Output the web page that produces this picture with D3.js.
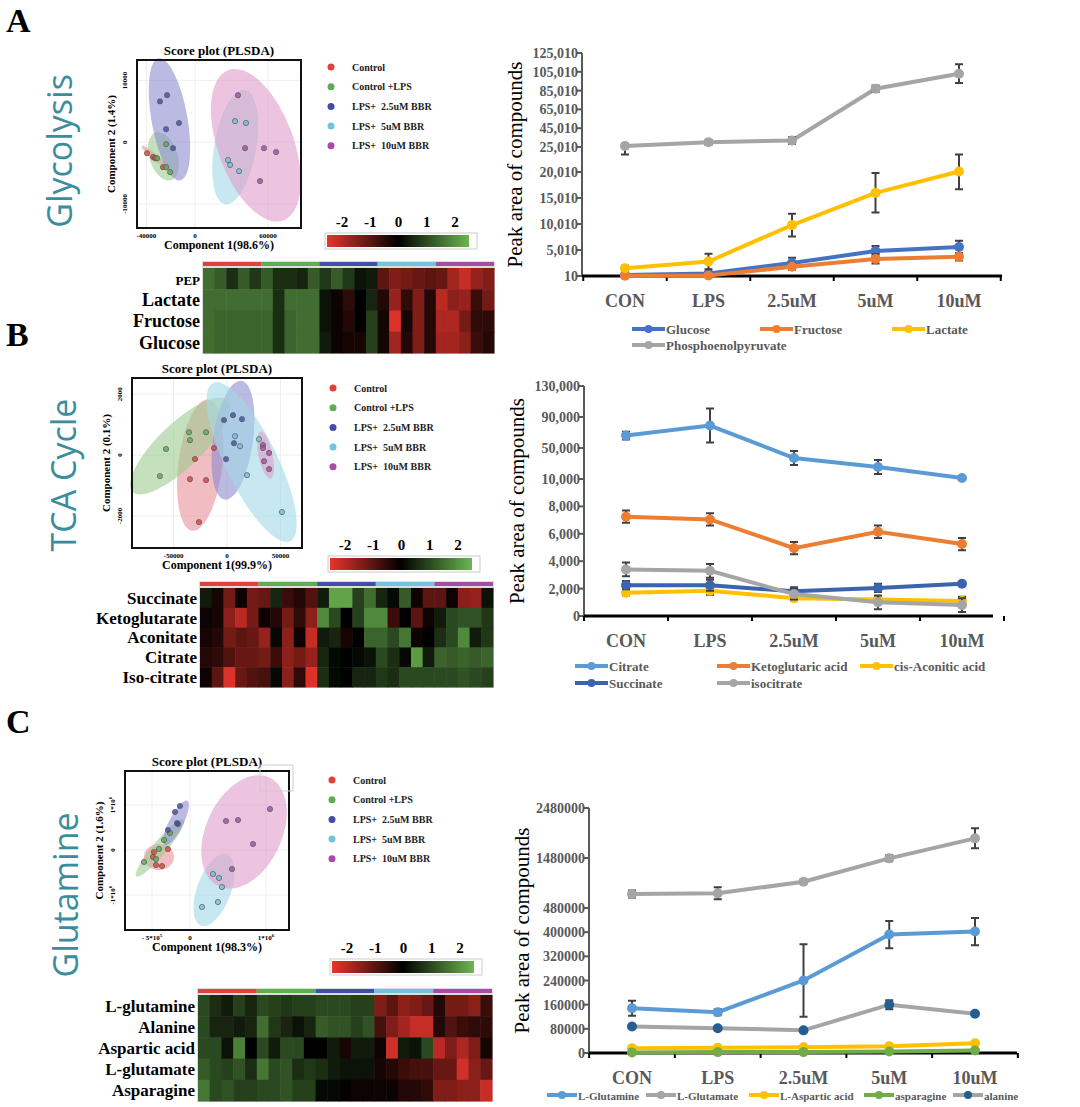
<!DOCTYPE html>
<html><head><meta charset="utf-8">
<script src="https://cdn.jsdelivr.net/npm/d3@7"></script>
<style>body{margin:0;background:#fff}svg{display:block}</style>
</head><body>
<svg id="fig" width="1080" height="1107"></svg>
<script>
// ---------- data ----------
const groups = ["Control", "Control +LPS", "LPS+  2.5uM BBR", "LPS+  5uM BBR", "LPS+  10uM BBR"];
const groupColors = ["#e0413a", "#5cae51", "#3f4fa8", "#72c3dd", "#a64ca6"];
const ellipseColors = ["#e8909a", "#9fcc8f", "#8c8cd0", "#a3d8e8", "#e09cc9"];
const doses = ["CON", "LPS", "2.5uM", "5uM", "10uM"];

// score plots: [x, y] per group
const scoreA = [
  [[-39500,-1800],[-34500,-2400],[-26300,-4050],[-32900,-2600]],
  [[-23800,-320],[-31200,-2600],[-23800,-4050],[-20500,-4860]],
  [[-28800,6600],[-23000,7600],[-13200,3100],[-23800,2100],[-18100,-970]],
  [[32900,3400],[41900,3100],[27100,-2900],[28800,-3700],[36200,-4700]],
  [[35300,7600],[41100,-970],[56700,-970],[66600,-1600],[53400,-6300]]
];
const scoreB = [
  [[-12200,230],[-29900,-130],[-19600,-820],[-34600,-790],[-26200,-2200]],
  [[-57000,200],[-62700,-690],[-35500,750],[-34600,490],[-19600,750]],
  [[-2800,1150],[5600,1310],[14000,1180],[6500,390],[-900,-130]],
  [[7500,620],[12200,290],[29900,520],[18700,-660],[51400,-1870]],
  [[33600,330],[33600,230],[39300,70],[34600,-200],[39300,-460]]
];
const scoreC = [
  [[-290000,22000],[-474000,-44000],[-487000,-155000],[-447000,-333000],[-368000,-355000]],
  [[-263000,377000],[-342000,222000],[-408000,22000],[-447000,-200000],[-605000,-266000]],
  [[-132000,977000],[-197000,844000],[-158000,577000],[-290000,444000],[-171000,600000]],
  [[303000,-533000],[382000,-622000],[421000,-822000],[368000,-1155000],[158000,-1265000]],
  [[474000,644000],[632000,666000],[1053000,910000],[829000,133000],[553000,-422000]]
];
// ellipses per group: [cx, cy, rxPx, ryPx, rotateDeg]
const ellA = [[-33000,-2400,3,17,-50],[-26000,-2300,14,25,-18],[-21000,3700,18,62,-10],[33000,-800,21,58,10],[50000,-500,38,80,-20]];
const ellB = [[-25000,-330,22,66,7],[-44000,300,22,66,46],[5600,490,20,60,8],[23000,-230,26,88,-26],[36000,0,7,24,-12]];
const ellC = [[-408000,-155000,15,13,0],[-395000,44000,7,37,40],[-184000,600000,7,25,27],[316000,-888000,17,38,20],[711000,400000,38,60,25]];

// heatmaps (z-scores, 25 samples)
const heatA = {
  rows: ["PEP", "Lactate", "Fructose", "Glucose"],
  values: [
    [1.2,1.0,0.5,1.0,0.6,1.0,0.5,0.5,0.4,1.0,0.6,1.0,0.6,0.2,0.3,-0.8,-1.1,-1.0,-0.9,-0.8,-0.9,-1.4,-1.7,-1.3,-1.1],
    [1.2,1.2,1.2,1.2,1.2,1.2,0.5,1.2,1.2,1.2,0.2,-0.1,-0.4,0,0.4,-0.3,-1.3,-0.4,-1.1,-0.3,-1.6,-1.2,-1.3,-0.5,-1.0],
    [1.2,1.1,1.1,1.1,1.1,1.1,0.5,1.1,1.2,1.2,0.2,-0.1,-0.3,0,0.7,-0.2,-1.9,-0.2,-1.1,-0.3,-1.5,-1.5,-1.0,-0.4,-0.4],
    [1.2,1.1,1.1,1.1,1.1,1.1,0.5,1.1,1.2,1.2,0.3,-0.1,-0.2,-0.2,0.7,-0.2,-1.4,-0.3,-1.1,-0.3,-1.4,-1.4,-1.2,-0.5,-0.3]
  ]
};
const heatB = {
  rows: ["Succinate", "Ketoglutarate", "Aconitate", "Citrate", "Iso-citrate"],
  values: [
    [0.3,-0.2,-1.0,-0.1,-1.0,-0.9,0.4,-0.5,-0.3,-0.7,0.3,1.8,1.8,0.7,1.2,0.4,0.1,1.0,-0.1,-0.8,-0.8,-0.1,-1.2,-1.3,0.2],
    [-0.1,-0.2,-1.2,-1.6,-1.0,-0.1,-0.3,-1.0,-0.4,-1.2,1.5,0.8,0,0.7,1.5,1.5,-0.5,0,-0.8,-0.1,0.3,0.8,0.9,0.9,0.6],
    [-0.2,-0.3,-1.0,-0.8,-0.9,-1.3,0.1,-1.2,-0.1,-1.7,0.3,0.4,-0.2,0,1.1,1.1,0.8,1.3,-0.1,0,0.5,0.8,1.5,0.3,0.6],
    [-0.3,-0.4,-0.7,-0.9,-0.9,-1.0,-0.5,-1.2,-1.0,-1.3,0.4,0.1,0,0.1,0.2,0.8,0.5,0.1,1.7,0.3,1.1,1.0,1.1,1.0,1.1],
    [-0.1,-0.8,-1.9,-0.9,-0.7,-0.6,0.1,-1.2,-0.4,-1.9,0.5,0.1,0,0.4,0.4,0.6,0.5,0.8,0.8,0.8,0.8,0.8,0.9,0.8,0.7]
  ]
};
const heatC = {
  rows: ["L-glutamine", "Alanine", "Aspartic acid", "L-glutamate", "Asparagine"],
  values: [
    [0.8,0.5,0.3,0.7,0.4,0.8,0.7,0.6,0.7,0.7,0.8,0.8,0.8,0.7,0.7,-1.1,-0.8,-1.2,-1.1,-0.9,-0.3,-1.0,-1.0,-1.2,-0.5],
    [0.8,0.4,0.4,0.3,0.4,1.2,0.6,0.4,0.2,0.4,1.0,0.9,0.9,0.7,0.9,-0.6,-1.1,-1.4,-1.7,-1.7,-0.3,-0.7,-0.5,-0.4,-0.4],
    [0.8,0.8,0.2,1.4,0.0,0.8,0.3,0.8,0.8,0.0,0.0,0.3,-0.2,0.3,0.3,-0.1,-1.8,0.3,0.2,0.8,-1.6,-1.1,-1.5,-1.1,-0.2],
    [1.0,0.8,0.7,0.9,0.5,1.3,0.8,0.9,0.5,0.6,0.5,0.3,0.2,0.2,0.2,-0.2,-0.3,-0.5,-0.6,-0.6,-0.9,-0.9,-1.8,-1.2,-0.9],
    [1.3,0.8,0.9,0.7,0.7,0.8,0.8,0.9,0.7,0.7,0.1,0.1,-0.05,-0.1,-0.1,-0.1,-0.1,-0.3,-0.3,-0.4,-1.1,-1.1,-1.2,-1.2,-1.7]
  ]
};

// line charts
const glycoSeries = [
  {name:"Glucose", color:"#4472c4", v:[200,500,2500,4800,5600], e:[300,300,1000,1000,1200]},
  {name:"Fructose", color:"#ed7d31", v:[50,100,1800,3300,3700], e:[200,200,600,900,700]},
  {name:"Lactate", color:"#ffc000", v:[1500,2800,9800,16000,20100], e:[500,1500,2200,3800,3400]},
  {name:"Phosphoenolpyruvate", color:"#a5a5a5", v:[26000,30000,32000,87000,103000], e:[2500,2500,3500,3500,10000]}
];
const glycoTicks = [10,5010,10010,15010,20010,25010,45010,65010,85010,105010,125010];
const tcaSeries = [
  {name:"Citrate", color:"#5b9bd5", v:[66000,79000,37000,25500,11300], e:[5000,22000,9000,9000,0]},
  {name:"Ketoglutaric acid", color:"#ed7d31", v:[7250,7050,4950,6150,5250], e:[450,450,450,450,450]},
  {name:"cis-Aconitic acid", color:"#ffc000", v:[1700,1850,1300,1200,1100], e:[200,300,150,200,300]},
  {name:"Succinate", color:"#3c63ad", v:[2250,2250,1800,2050,2350], e:[300,400,300,300,100]},
  {name:"isocitrate", color:"#a5a5a5", v:[3400,3300,1600,1000,800], e:[500,500,400,500,500]}
];
const tcaTicks = [0,2000,4000,6000,8000,10000,50000,90000,130000];
const glnSeries = [
  {name:"L-Glutamine", color:"#5b9bd5", v:[148000,135000,240000,392000,402000], e:[25000,10000,120000,45000,45000]},
  {name:"L-Glutamate", color:"#a5a5a5", v:[760000,773000,1005000,1473000,1873000], e:[70000,120000,40000,60000,200000]},
  {name:"L-Aspartic acid", color:"#ffc000", v:[16000,17000,19000,22000,32000], e:[0,0,0,0,0]},
  {name:"asparagine", color:"#70ad47", v:[2000,3000,3000,5000,8000], e:[0,0,0,0,0]},
  {name:"alanine", color:"#a5a5a5", marker:"#255e91", v:[88000,82000,75000,160000,130000], e:[0,0,0,15000,0]}
];
const glnTicks = [0,80000,160000,240000,320000,400000,480000,1480000,2480000];

// ---------- drawing ----------
const svg = d3.select("#fig");
const serif = "'Liberation Serif','DejaVu Serif',serif";
const heatColor = d3.scaleLinear().domain([-2, 0, 2]).range(["#e8352c", "#000000", "#6cb650"]).clamp(true);

function panelLetter(t, x, y) {
  svg.append("text").attr("x", x).attr("y", y).text(t)
    .attr("font-family", serif).attr("font-weight", "bold").attr("font-size", 34);
}
function sideTitle(t, x, y) {
  svg.append("text").attr("transform", `translate(${x},${y}) rotate(-90)`).attr("text-anchor", "middle")
    .attr("font-family", "'Open Sans',sans-serif").attr("font-size", 34).attr("fill", "#3b8d9d").text(t);
}

function scorePlot(cfg) {
  const g = svg.append("g");
  const x = d3.scaleLinear().domain(cfg.xd).range([cfg.x0, cfg.x1]);
  const y = d3.scaleLinear().domain(cfg.yd).range([cfg.y1, cfg.y0]);
  g.selectAll(".gx").data(cfg.xt).join("line").attr("x1", d => x(d)).attr("x2", d => x(d))
    .attr("y1", cfg.y0).attr("y2", cfg.y1).attr("stroke", "#eee");
  g.selectAll(".gy").data(cfg.yt).join("line").attr("y1", d => y(d)).attr("y2", d => y(d))
    .attr("x1", cfg.x0).attr("x2", cfg.x1).attr("stroke", "#eee");
  cfg.ell.forEach((e, i) => {
    g.append("ellipse").attr("cx", 0).attr("cy", 0).attr("rx", e[2]).attr("ry", e[3])
      .attr("transform", `translate(${x(e[0])},${y(e[1])}) rotate(${e[4]})`)
      .attr("fill", ellipseColors[i]).attr("opacity", 0.6);
  });
  cfg.pts.forEach((ps, i) => {
    g.selectAll(null).data(ps).join("circle").attr("cx", d => x(d[0])).attr("cy", d => y(d[1])).attr("r", 2.6)
      .attr("fill", groupColors[i]).attr("fill-opacity", 0.8).attr("stroke", "#555").attr("stroke-width", 0.7);
  });
  g.append("rect").attr("x", cfg.x0).attr("y", cfg.y0).attr("width", cfg.x1 - cfg.x0).attr("height", cfg.y1 - cfg.y0)
    .attr("fill", "none").attr("stroke", "#111").attr("stroke-width", 2);
  g.append("text").attr("x", (cfg.x0 + cfg.x1) / 2).attr("y", cfg.y0 - 5).attr("text-anchor", "middle")
    .attr("font-family", serif).attr("font-weight", "bold").attr("font-size", 13).text("Score plot (PLSDA)");
  cfg.xt.forEach((t, i) => {
    const tx = g.append("text").attr("x", x(t)).attr("y", cfg.y1 + 10).attr("text-anchor", "middle")
      .attr("font-family", serif).attr("font-weight", "bold").attr("font-size", 7);
    label(tx, cfg.xl[i]);
  });
  cfg.yt.forEach((t, i) => {
    const tx = g.append("text").attr("transform", `translate(${cfg.x0 - 10},${y(t)}) rotate(-90)`).attr("text-anchor", "middle")
      .attr("font-family", serif).attr("font-weight", "bold").attr("font-size", 7);
    label(tx, cfg.yl[i]);
  });
  g.append("text").attr("x", (cfg.x0 + cfg.x1) / 2).attr("y", cfg.y1 + 21).attr("text-anchor", "middle")
    .attr("font-family", serif).attr("font-weight", "bold").attr("font-size", 12).text(cfg.xlab);
  g.append("text").attr("transform", `translate(${cfg.x0 - 22},${(cfg.y0 + cfg.y1) / 2}) rotate(-90)`).attr("text-anchor", "middle")
    .attr("font-family", serif).attr("font-weight", "bold").attr("font-size", 11).text(cfg.ylab);
  // legend
  groups.forEach((n, i) => {
    const ly = cfg.ly + i * 19.7;
    g.append("circle").attr("cx", cfg.lx).attr("cy", ly).attr("r", 3.5).attr("fill", groupColors[i]);
    g.append("text").attr("x", cfg.lx + 21).attr("y", ly + 3.5).attr("font-family", serif).attr("font-weight", "bold")
      .attr("font-size", 10).attr("fill", "#222").attr("xml:space", "preserve").text(n);
  });
}
function label(tx, s) {
  // "a^b" renders b as superscript
  const parts = s.split("^");
  tx.append("tspan").text(parts[0]);
  if (parts[1]) tx.append("tspan").attr("dy", -3).attr("font-size", 5).text(parts[1]);
}

function colorBar(x0, y0) {
  const w = 148, h = 12;
  const grad = svg.append("defs").append("linearGradient").attr("id", "cb" + y0);
  [-2, -1, 0, 1, 2].forEach((v, i) => grad.append("stop").attr("offset", i / 4).attr("stop-color", heatColor(v)));
  svg.append("rect").attr("x", x0 - 2).attr("y", y0 - 2).attr("width", w + 4).attr("height", h + 4)
    .attr("fill", "#fff").attr("stroke", "#ccc");
  svg.append("rect").attr("x", x0).attr("y", y0).attr("width", w - 6).attr("height", h).attr("fill", `url(#cb${y0})`);
  const s = d3.scaleLinear().domain([-2, 2]).range([x0 + 15, x0 + 128]);
  [-2, -1, 0, 1, 2].forEach(v => svg.append("text").attr("x", s(v)).attr("y", y0 - 8).attr("text-anchor", "middle")
    .attr("font-family", serif).attr("font-weight", "bold").attr("font-size", 15).text(v));
}

function heatmap(hm, x0, x1, y0, y1, fs) {
  const n = 25;
  const x = d3.scaleBand().domain(d3.range(n)).range([x0, x1]);
  const y = d3.scaleBand().domain(hm.rows).range([y0, y1]);
  const gx = d3.scaleBand().domain(d3.range(5)).range([x0, x1]);
  svg.append("rect").attr("x", x0 - 1).attr("y", y0 - 7).attr("width", x1 - x0 + 2).attr("height", y1 - y0 + 8).attr("fill", "#ddd");
  svg.selectAll(null).data(d3.range(5)).join("rect").attr("x", d => gx(d)).attr("y", y0 - 6)
    .attr("width", gx.bandwidth()).attr("height", 4).attr("fill", d => groupColors[d]);
  hm.values.forEach((row, r) => {
    svg.selectAll(null).data(row).join("rect").attr("x", (d, i) => x(i)).attr("y", y(hm.rows[r]))
      .attr("width", x.bandwidth() + 0.5).attr("height", y.bandwidth() + 0.5).attr("fill", d => heatColor(d));
  });
  svg.selectAll(null).data(hm.rows).join("text").attr("x", x0 - 3).attr("y", d => y(d) + y.bandwidth() / 2 + fs * 0.35)
    .attr("text-anchor", "end").attr("font-family", serif).attr("font-weight", "bold").attr("font-size", d => d === "PEP" ? fs - 5 : fs).text(d => d);
}

function lineChart(cfg) {
  const g = svg.append("g");
  const x = d3.scalePoint().domain(doses).range([cfg.cx0, cfg.cx1]);
  const y = d3.scaleLinear().domain(cfg.yd).range(cfg.yr);
  const grey = "#595959";
  // y axis
  g.append("line").attr("x1", cfg.ax0).attr("x2", cfg.ax0).attr("y1", cfg.yr[cfg.yr.length - 1]).attr("y2", cfg.yr[0])
    .attr("stroke", grey).attr("stroke-width", 2);
  cfg.ticks.forEach(t => {
    g.append("line").attr("x1", cfg.ax0 - 5).attr("x2", cfg.ax0).attr("y1", y(t)).attr("y2", y(t)).attr("stroke", grey).attr("stroke-width", 2);
    g.append("text").attr("x", cfg.ax0 - 4).attr("y", y(t) + 5).attr("text-anchor", "end").attr("font-family", serif)
      .attr("font-weight", "bold").attr("font-size", 14).attr("fill", grey).text(cfg.fmt(t));
  });
  // x axis
  const step = x.step();
  g.append("line").attr("x1", cfg.ax0).attr("x2", cfg.ax1).attr("y1", cfg.yr[0]).attr("y2", cfg.yr[0]).attr("stroke", "#000").attr("stroke-width", 3);
  d3.range(6).forEach(i => g.append("line").attr("x1", cfg.cx0 + (i - 0.5) * step).attr("x2", cfg.cx0 + (i - 0.5) * step)
    .attr("y1", cfg.yr[0]).attr("y2", cfg.yr[0] + 5).attr("stroke", "#000").attr("stroke-width", 2));
  doses.forEach(d => g.append("text").attr("x", x(d)).attr("y", cfg.yr[0] + 31).attr("text-anchor", "middle")
    .attr("font-family", serif).attr("font-weight", "bold").attr("font-size", 18).attr("fill", grey).text(d));
  g.append("text").attr("transform", `translate(${cfg.ax0 - 60},${(cfg.yr[0] + cfg.yr[cfg.yr.length - 1]) / 2}) rotate(-90)`)
    .attr("text-anchor", "middle").attr("font-family", serif).attr("font-size", 21).text("Peak area of compounds");
  const line = d3.line().x((d, i) => x(doses[i])).y(d => y(d));
  cfg.series.forEach(s => {
    g.append("path").attr("d", line(s.v)).attr("fill", "none").attr("stroke", s.color).attr("stroke-width", 4);
    s.v.forEach((v, i) => {
      if (s.e[i] > 0) {
        const cx = x(doses[i]);
        const top = y(v + s.e[i]), bot = y(Math.max(v - s.e[i], 0));
        g.append("path").attr("d", `M${cx},${top}V${bot}M${cx - 4},${top}H${cx + 4}M${cx - 4},${bot}H${cx + 4}`)
          .attr("stroke", "#404040").attr("stroke-width", 2).attr("fill", "none");
      }
    });
    g.selectAll(null).data(s.v).join("circle").attr("cx", (d, i) => x(doses[i])).attr("cy", d => y(d))
      .attr("r", 5).attr("fill", s.marker || s.color);
  });
  // legend
  const ll = cfg.legLen || 33;
  cfg.series.forEach((s, i) => {
    const [lx, ly] = cfg.leg[i];
    g.append("line").attr("x1", lx).attr("x2", lx + ll).attr("y1", ly).attr("y2", ly).attr("stroke", s.color).attr("stroke-width", 4);
    g.append("circle").attr("cx", lx + ll / 2).attr("cy", ly).attr("r", 4).attr("fill", s.marker || s.color);
    g.append("text").attr("x", lx + ll + 1).attr("y", ly + 4.5).attr("font-family", serif).attr("font-weight", "bold")
      .attr("font-size", cfg.legFs || 13).attr("fill", grey).text(s.name);
  });
}

const comma = d3.format(",");
const plain = d3.format("d");

// ---- Panel A ----
panelLetter("A", 6, 32);
sideTitle("Glycolysis", 72, 151);
scorePlot({x0:137, x1:301, y0:60, y1:228, xd:[-47700,87100], yd:[-13900,13300],
  xt:[-40000,0,60000], xl:["-40000","0","60000"], yt:[10000,0,-10000], yl:["10000","0","-10000"],
  xlab:"Component 1(98.6%)", ylab:"Component 2 (1.4%)", pts:scoreA, ell:ellA, lx:331, ly:67});
colorBar(327, 235);
heatmap(heatA, 203, 494, 268, 353, 18);
lineChart({series:glycoSeries, ticks:glycoTicks, fmt:comma, ax0:582, ax1:1002, cx0:625, cx1:959,
  yd:[10,20010,25010,125010], yr:[276,172,147,53],
  leg:[[632,329],[760,329],[892,329],[632,345]]});

// ---- Panel B ----
panelLetter("B", 6, 346);
sideTitle("TCA Cycle", 76, 475);
scorePlot({x0:132, x1:302, y0:378, y1:548, xd:[-88800,70100], yd:[-3050,2530],
  xt:[-50000,0,50000], xl:["-50000","0","50000"], yt:[2000,0,-2000], yl:["2000","0","-2000"],
  xlab:"Component 1(99.9%)", ylab:"Component 2 (0.1%)", pts:scoreB, ell:ellB, lx:333, ly:388});
colorBar(330, 558);
heatmap(heatB, 200, 493, 588, 687, 17);
lineChart({series:tcaSeries, ticks:tcaTicks, fmt:comma, ax0:584, ax1:993, cx0:626, cx1:962,
  yd:[0,10000,130000], yr:[616,479,386],
  leg:[[575,666],[717,666],[860,666],[575,683],[717,683]]});

// ---- Panel C ----
panelLetter("C", 6, 733);
sideTitle("Glutamine", 78, 895);
scorePlot({x0:125, x1:289, y0:771, y1:930, xd:[-855000,1303000], yd:[-1776000,1754000],
  xt:[-500000,0,1000000], xl:["- 5*10^5","0","1*10^6"], yt:[1000000,0,-1000000], yl:["1*10^6","0","-1*10^6"],
  xlab:"Component 1(98.3%)", ylab:"Component 2 (1.6%)", pts:scoreC, ell:ellC, lx:332, ly:780});
svg.append("rect").attr("x", 260).attr("y", 765).attr("width", 33).attr("height", 26).attr("fill", "none").attr("stroke", "#ccc");
colorBar(332, 961);
heatmap(heatC, 198, 492, 995, 1101, 17);
lineChart({series:glnSeries, ticks:glnTicks, fmt:plain, ax0:589, ax1:1017, cx0:632, cx1:975,
  yd:[0,480000,1480000,2480000], yr:[1053,908,858,808], legLen:30, legFs:11,
  leg:[[547,1095],[646,1095],[749,1095],[864,1095],[953,1095]]});
</script>
</body></html>
